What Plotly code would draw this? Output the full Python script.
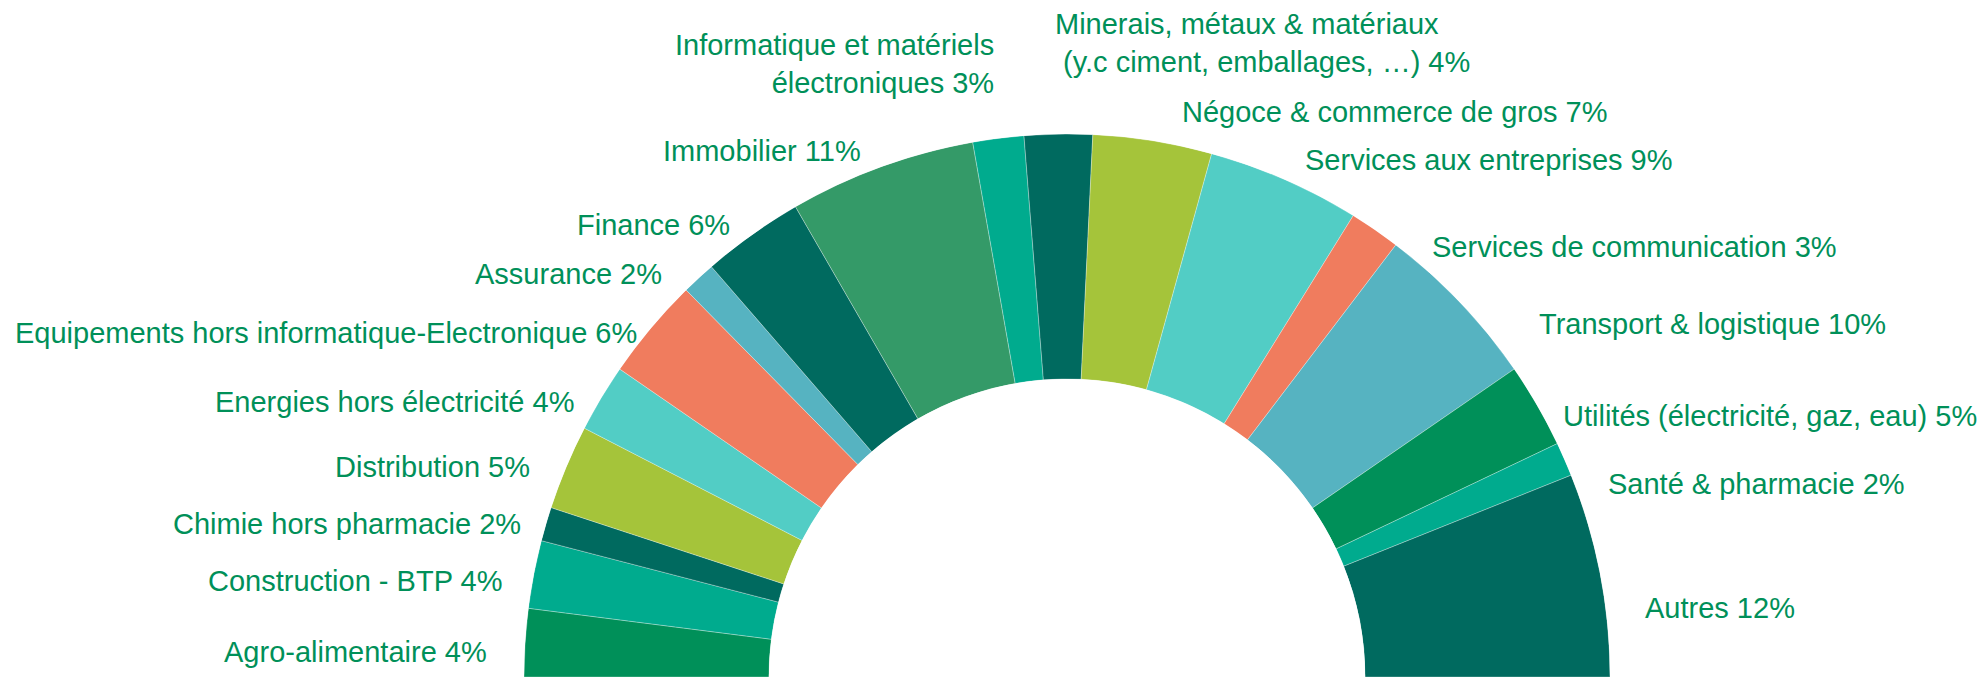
import plotly.graph_objects as go

# Répartition sectorielle (en % du total)
sectors = [
    "Agro-alimentaire",
    "Construction - BTP",
    "Chimie hors pharmacie",
    "Distribution",
    "Energies hors électricité",
    "Equipements hors informatique-Electronique",
    "Assurance",
    "Finance",
    "Immobilier",
    "Informatique et matériels<br>électroniques",
    "Minerais, métaux & matériaux<br>\u00a0(y.c ciment, emballages, …)",
    "Négoce & commerce de gros",
    "Services aux entreprises",
    "Services de communication",
    "Transport & logistique",
    "Utilités (électricité, gaz, eau)",
    "Santé & pharmacie",
    "Autres",
]
shares = [4, 4, 2, 5, 4, 6, 2, 6, 11, 3, 4, 7, 9, 3, 10, 5, 2, 12]

palette = [
    "#009059", "#00AB8E", "#006A5F", "#A5C43A", "#52CDC5", "#F07C5E",
    "#56B3C1", "#006A5F", "#349A68", "#00AB8E", "#006A5F", "#A5C43A",
    "#52CDC5", "#F07C5E", "#56B3C1", "#009059", "#00AB8E", "#006A5F",
]

W, H = 1982, 677
TEXT_COLOR = "#009059"
FONT = "Liberation Sans, Arial, sans-serif"

# Angular geometry of the half ring: each sector spans share/total of 180 degrees
total = sum(shares)
widths = [s / total * 180 for s in shares]
centers = []
acc = 0.0
for w in widths:
    centers.append(acc + w / 2)
    acc += w

fig = go.Figure(
    go.Barpolar(
        r=[1] * len(shares),
        theta=centers,
        width=widths,
        marker=dict(color=palette, line=dict(color="rgba(255,255,255,0.6)", width=0.5)),
        hoverinfo="skip",
    )
)

# Ring placement (pixels): centre and outer radius
cx, cy, R = 1067, 677, 543
fig.update_layout(
    width=W,
    height=H,
    margin=dict(l=0, r=0, t=0, b=0),
    paper_bgcolor="white",
    showlegend=False,
    polar=dict(
        domain=dict(x=[(cx - R) / W, (cx + R) / W], y=[0, R / H]),
        sector=[0, 180],
        hole=0.549,
        bargap=0,
        bgcolor="white",
        radialaxis=dict(visible=False, range=[0, 1]),
        angularaxis=dict(visible=False, rotation=180, direction="clockwise"),
    ),
)

# Label anchors in pixels: (side, x, y-centre)
label_pos = [
    ("right", 487, 652),
    ("right", 502, 581),
    ("right", 521, 524),
    ("right", 530, 467),
    ("right", 574, 402),
    ("right", 637, 333),
    ("right", 662, 274),
    ("right", 730, 225),
    ("right", 861, 151),
    ("right", 994, 64),
    ("left", 1055, 43),
    ("left", 1182, 112),
    ("left", 1305, 160),
    ("left", 1432, 247),
    ("left", 1539, 324),
    ("left", 1563, 416),
    ("left", 1608, 484),
    ("left", 1645, 608),
]

for name, share, (side, px, py) in zip(sectors, shares, label_pos):
    fig.add_annotation(
        text=f"{name} {share}%",
        xref="paper",
        yref="paper",
        x=px / W,
        y=1 - py / H,
        xanchor=side,
        yanchor="middle",
        align=side,
        showarrow=False,
        borderpad=0,
        borderwidth=0,
        font=dict(family=FONT, size=29, color=TEXT_COLOR),
    )

fig.write_html("out.html")
